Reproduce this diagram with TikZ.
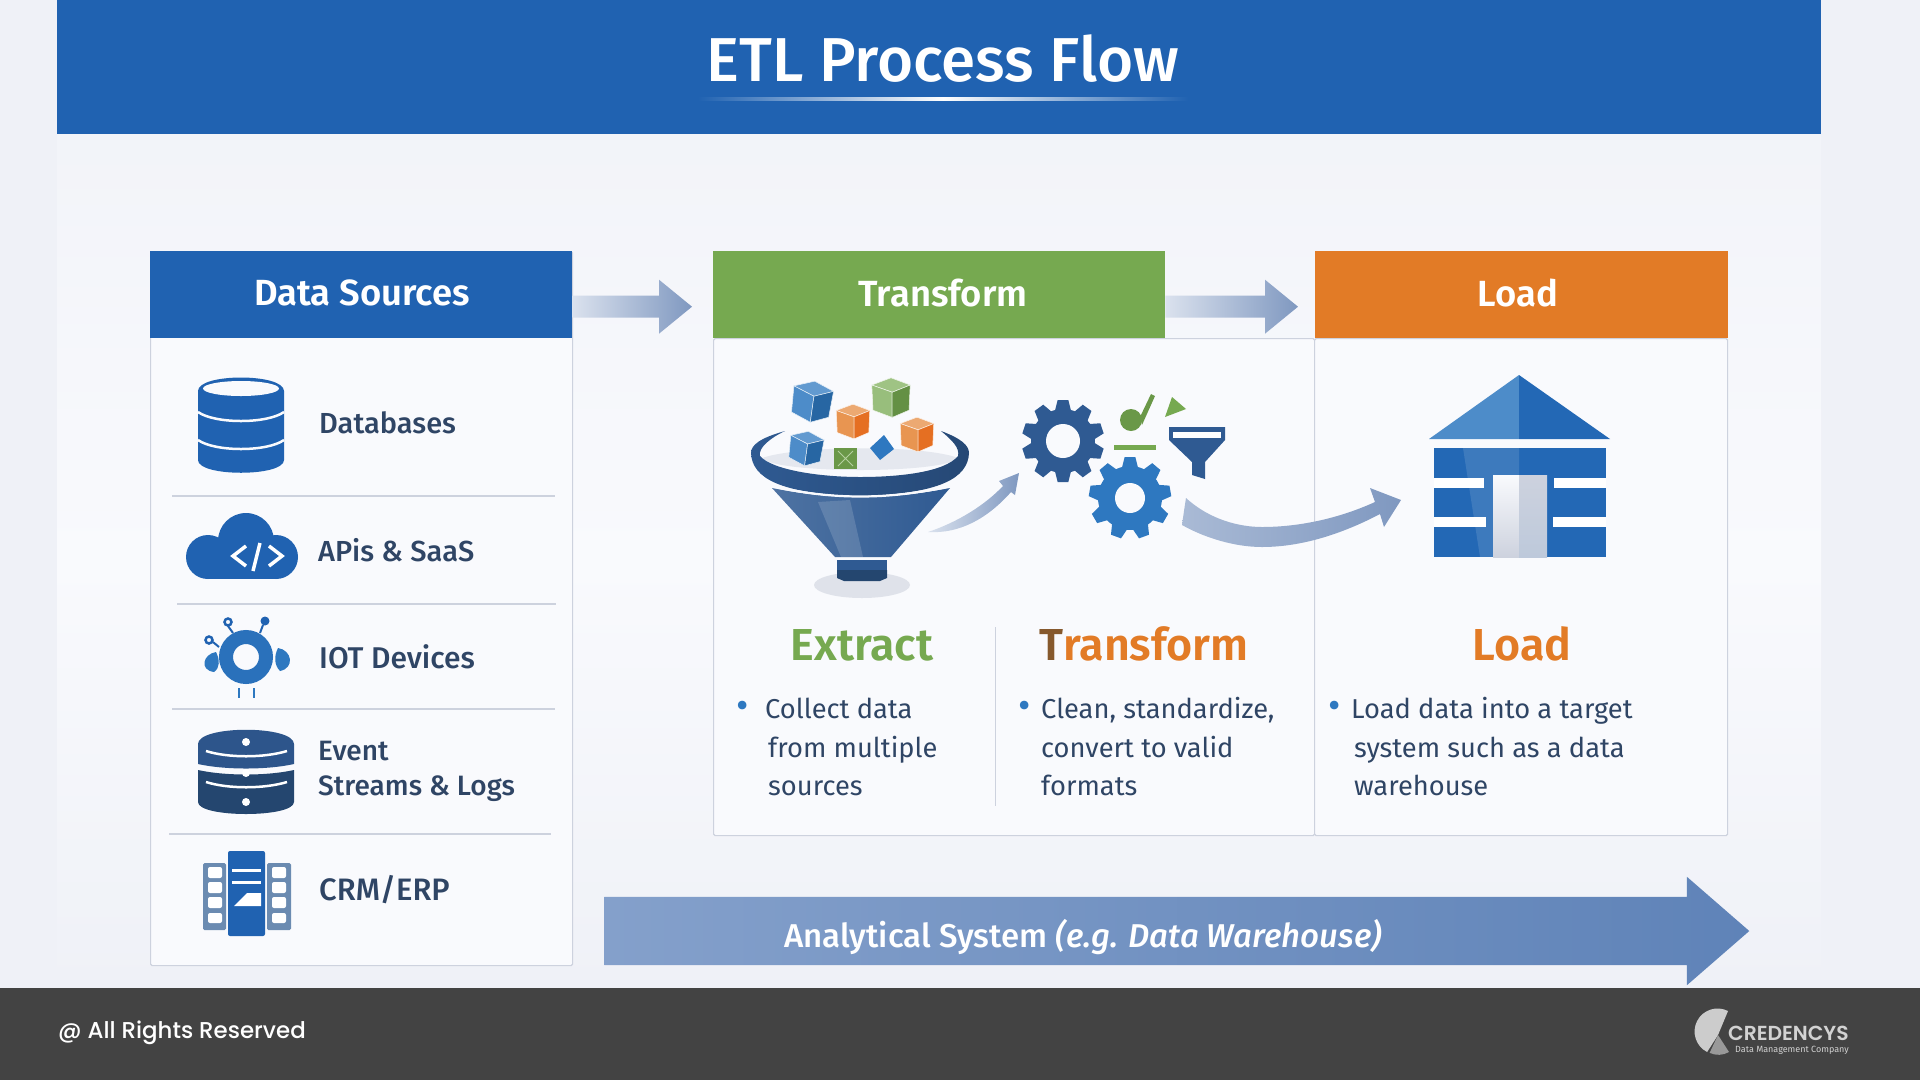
\documentclass[tikz,border=0pt]{standalone}
\usepackage{fontspec}
\setmainfont{Fira Sans}
\newfontfamily\medfont{Fira Sans Medium}[ItalicFont={Fira Sans Medium Italic}]
\newfontfamily\semifont{Fira Sans SemiBold}
\newfontfamily\footfont{Poppins Medium}
\newfontfamily\logofont{Poppins SemiBold}
\usepackage{xcolor}
\definecolor{etlBlue}{HTML}{2062B1}
\definecolor{etlNavy}{HTML}{2F5A92}
\definecolor{etlDeep}{HTML}{24466F}
\definecolor{etlSky}{HTML}{2E78C0}
\definecolor{etlGreen}{HTML}{76A950}
\definecolor{etlOrange}{HTML}{E27B26}
\definecolor{etlInk}{HTML}{2F4565}
\definecolor{etlLine}{HTML}{CDD2DE}
\definecolor{etlPage}{HTML}{F9FAFD}
\definecolor{etlSide}{HTML}{EFF1F7}
\definecolor{etlFoot}{HTML}{434343}
\definecolor{etlFlow}{HTML}{7F98C0}
\definecolor{etlBandL}{HTML}{84A0CB}
\definecolor{etlBandR}{HTML}{5F83B8}
\usetikzlibrary{shapes.arrows,positioning,calc}
\tikzset{
    panel/.style={
        draw=etlLine,
        fill=etlPage,
        line width=1.2pt,
        rectangle,
        anchor=north west,
        rounded corners=1.5pt
    },
    headbox/.style={
        rectangle,
        anchor=north west,
        minimum height=87pt,
        inner sep=0pt
    },
    headtext/.style={
        inner sep=0pt,
        text=white,
        font=\semifont\fontsize{36.4}{40}\selectfont
    },
    itemtext/.style={
        anchor=west,
        align=left,
        inner sep=0pt,
        text=etlInk,
        font=\medfont\fontsize{29}{35}\selectfont
    },
    stagetext/.style={
        anchor=base,
        inner sep=0pt,
        font=\semifont\fontsize{44.8}{48}\selectfont
    },
    bodytext/.style={
        anchor=west,
        align=left,
        inner sep=0pt,
        text=etlInk,
        font=\fontsize{27.3}{38.5}\selectfont
    },
    bulletdot/.style={
        anchor=center,
        inner sep=0pt,
        text=etlSky,
        font=\fontsize{38}{40}\selectfont
    },
    sepline/.style={
        draw=etlLine,
        line width=1.2pt
    },
    flowshade/.style={
        left color=etlFlow!25!etlPage,
        right color=etlFlow
    }
}
% block arrow between two header boxes: from, to, gap before the second box
\newcommand{\flowarrow}[3]{%
    \shade[flowshade] ($(#1.east)+(0,1)$) -- ($(#2.west)+(-33-#3,1)$) -- ($(#2.west)+(-33-#3,-15)$)
        -- ($(#2.west)+(-#3,12)$) -- ($(#2.west)+(-33-#3,39)$) -- ($(#2.west)+(-33-#3,23)$)
        -- ($(#1.east)+(0,23)$) -- cycle;
}
% gear: x, y, radius, hole radius, colour, teeth
\newcommand{\gearicon}[6]{%
    \fill[#5] (#1,#2) circle[radius=#3*0.78];
    \foreach \t in {1,...,#6} {
        \fill[#5, rotate around={360/#6*\t:(#1,#2)}] (#1-#3*.2,#2-#3*.72) -- (#1-#3*.13,#2-#3)
            -- (#1+#3*.13,#2-#3) -- (#1+#3*.2,#2-#3*.72) -- cycle;
    }
    \fill[etlPage] (#1,#2) circle[radius=#4];
}
% cube: x, y, size, rotation, top, left, right
\newcommand{\cubeicon}[7]{%
    \begin{scope}[shift={(#1,#2)}, rotate=#4, draw=white!85!#5, line width=.5pt, line join=round]
        \filldraw[fill=#5] (0,-#3*.8) -- (#3*.8,-#3*.5) -- (#3*.05,-#3*.2) -- (-#3*.8,-#3*.5) -- cycle;
        \filldraw[fill=#6] (-#3*.8,-#3*.5) -- (#3*.05,-#3*.2) -- (#3*.05,#3*.85) -- (-#3*.75,#3*.55) -- cycle;
        \filldraw[fill=#7] (#3*.8,-#3*.5) -- (#3*.05,-#3*.2) -- (#3*.05,#3*.85) -- (#3*.75,#3*.55) -- cycle;
    \end{scope}
}
\begin{document}
\begin{tikzpicture}[x=1pt,y=-1pt]
    \useasboundingbox (0,0) rectangle (1920,1080);
    % Page, title band and footer
    \fill[etlSide] (0,0) rectangle (1920,1080);
    \shade[top color=etlSide!70!etlPage, bottom color=etlSide, middle color=etlPage] (57,134) rectangle (1821,988);
    \fill[etlBlue] (57,0) rectangle (1821,134);
    \node[inner sep=0pt, text=white, font=\medfont\fontsize{62}{66}\selectfont] (title) at (943,59) {ETL Process Flow};
    \shade[left color=etlBlue, right color=etlBlue, middle color=white] (698,97.5) rectangle (1188,100.5);
    \fill[etlFoot] (0,988) rectangle (1920,1080);
    \node[anchor=west, inner sep=0pt, text=white, font=\footfont\fontsize{22.9}{25}\selectfont] (rights) at (58,1033) {@ All Rights Reserved};

    % Panels
    \node[panel, minimum width=422pt, minimum height=714pt] (srcpanel) at (150,251) {};
    \node[panel, minimum width=601pt, minimum height=497pt] (xfmpanel) at (713,338) {};
    \node[panel, minimum width=413pt, minimum height=497pt] (loadpanel) at (1314,338) {};
    \node[headbox, fill=etlBlue, minimum width=422pt] (srchead) at (150,251) {};
    \node[headbox, fill=etlGreen, minimum width=452pt] (xfmhead) at (713,251) {};
    \node[headbox, fill=etlOrange, minimum width=413pt] (loadhead) at (1315,251) {};
    \node[headtext] (srctitle) at (362,293) {Data Sources};
    \node[headtext] (xfmtitle) at (943,293) {Transform};
    \node[headtext] (loadtitle) at (1518,293) {Load};
    \flowarrow{srchead}{xfmhead}{21}
    \flowarrow{xfmhead}{loadhead}{17}

    % Source rows
    \draw[sepline] (172,496) -- (555,496);
    \draw[sepline] (177,604) -- (556,604);
    \draw[sepline] (172,709) -- (555,709);
    \draw[sepline] (169,834) -- (551,834);
    \node[itemtext] (databases) at (319,423) {Databases};
    \node[itemtext] (apis) at (318,550) {APis \& SaaS};
    \node[itemtext, font=\medfont\fontsize{30}{35}\selectfont] (iot) at (319,657) {IOT Devices};
    \node[itemtext, font=\medfont\fontsize{28}{35}\selectfont] (events) at (318,771.5) {Event\\Streams \& Logs};
    \node[itemtext, font=\medfont\fontsize{31}{35}\selectfont] (crm) at (319,890) {CRM/ERP};

    % Database icon
    \fill[etlBlue] (198,391) .. controls (198,373) and (284,373) .. (284,391) -- (284,460)
        .. controls (284,477) and (198,477) .. (198,460) -- cycle;
    \fill[etlPage] (241,388.5) ellipse[x radius=38, y radius=7.5];
    \foreach \yy in {412,440} {
        \draw[etlPage, line width=2.5pt] (198,\yy) .. controls (215,\yy+12) and (267,\yy+12) .. (284,\yy);
    }

    % Cloud icon
    \fill[etlBlue] (208,557) circle[radius=22];
    \fill[etlBlue] (246,541) circle[radius=28];
    \fill[etlBlue] (276,557) circle[radius=22];
    \fill[etlBlue] (208,550) rectangle (276,579);
    \draw[white, line width=3.5pt] (246,546) -- (233,556) -- (246,566);
    \draw[white, line width=3.5pt] (253,571) -- (260,543);
    \draw[white, line width=3.5pt] (269,546) -- (282,556) -- (269,566);

    % IOT icon
    \draw[etlSky!70!etlBlue, line width=14pt] (246,657) circle[radius=20];
    \fill[etlSky] (216,652) .. controls (203,654) and (199,670) .. (214,672) .. controls (220,668) and (220,660) .. (216,652) -- cycle;
    \fill[etlSky] (278,648) .. controls (292,650) and (295,668) .. (280,671) .. controls (274,665) and (274,656) .. (278,648) -- cycle;
    \draw[etlBlue, line width=2.5pt] (228,622) circle[radius=3.5];
    \draw[etlBlue, line width=2.5pt] (209,640) circle[radius=3.5];
    \fill[etlBlue] (265,621) circle[radius=4.5];
    \draw[etlBlue, line width=2pt] (228,626) -- (233,633) (213,642) -- (219,647) (263,625) -- (260,633);
    \draw[etlSky, line width=2pt] (239,688) -- (239,698) (254,688) -- (254,698);

    % Event stream icon
    \fill[etlNavy!95!black] (198,744) .. controls (198,725) and (294,725) .. (294,744) -- (294,764)
        .. controls (267,770) and (225,770) .. (198,764) -- cycle;
    \fill[etlDeep] (198,770) .. controls (225,776) and (267,776) .. (294,770) -- (294,802)
        .. controls (294,818) and (198,818) .. (198,802) -- cycle;
    \draw[white, line width=2.5pt] (206,751) .. controls (228,758) and (264,758) .. (287,751);
    \draw[white, line width=2.5pt] (206,782) .. controls (228,789) and (264,789) .. (287,782);
    \foreach \yy in {742,773,802} {
        \fill[white] (246,\yy) circle[radius=4];
    }

    % CRM icon
    \fill[etlBlue!60!gray!80!white, rounded corners=1.5pt] (203,863) rectangle (226,930);
    \fill[etlBlue!60!gray!80!white, rounded corners=1.5pt] (267,863) rectangle (291,930);
    \fill[etlBlue, rounded corners=2pt] (228,851) rectangle (265,936);
    \foreach \yy/\yb in {867/878,882/893,897/908,913/923} {
        \fill[white, rounded corners=2pt] (208,\yy) rectangle (222,\yb);
        \fill[white, rounded corners=2pt] (272,\yy) rectangle (286,\yb);
    }
    \fill[white] (232,869) rectangle (261,871.5);
    \fill[white] (232,881) rectangle (261,883.5);
    \fill[white] (234,906) -- (247,893) -- (261,893) -- (261,906) -- cycle;

    % Funnel
    \fill[etlLine!60!etlPage] (862,585) ellipse[x radius=48, y radius=13];
    \shade[left color=etlNavy!85!white, right color=etlNavy] (772,488) .. controls (830,500) and (890,500) .. (950,488)
        -- (891,557) -- (835,557) -- cycle;
    \fill[white, opacity=.15] (818,502) -- (850,500) -- (863,557) -- (841,557) -- cycle;
    \fill[etlNavy] (837,560) rectangle (887,572);
    \fill[etlDeep] (837,570) -- (887,570) -- (887,578) -- (880,581) -- (844,581) -- (837,578) -- cycle;
    \fill[etlLine!45!etlPage] (762,458) .. controls (800,445) and (925,445) .. (958,458)
        .. controls (945,474) and (775,474) .. (762,458) -- cycle;
    \shade[left color=etlNavy, right color=etlNavy!80!black] (785,431) .. controls (760,438) and (751,445) .. (751,453)
        .. controls (752,478) and (780,494) .. (860,496) .. controls (940,494) and (968,478) .. (969,453)
        .. controls (969,445) and (960,438) .. (941,431) .. controls (952,440) and (960,448) .. (958,456)
        .. controls (945,472) and (900,477) .. (860,477) .. controls (820,477) and (772,470) .. (760,456)
        .. controls (758,448) and (770,438) .. (785,431) -- cycle;
    \draw[etlPage, line width=2.2pt] (772,486) .. controls (830,500) and (890,500) .. (950,486);

    % Data blocks above the funnel
    \cubeicon{812}{401}{25}{-8}{etlSky!75!white}{etlSky!85!white}{etlSky!85!black}
    \cubeicon{891}{397}{24}{0}{etlGreen!70!white}{etlGreen!75!white}{etlGreen!85!black}
    \cubeicon{853}{421}{21}{0}{etlOrange!65!white}{etlOrange!80!white}{etlOrange!90!red}
    \cubeicon{917}{434}{21}{0}{etlOrange!65!white}{etlOrange!80!white}{etlOrange!90!red}
    \cubeicon{806}{448}{21}{-8}{etlSky!75!white}{etlSky!85!white}{etlSky!85!black}
    \fill[etlGreen!90!black] (834,448) rectangle (857,469);
    \draw[etlGreen!55!white, line width=1pt] (838,451) -- (853,466) (853,451) -- (838,466);
    \fill[etlSky] (884,435) -- (894,449) -- (880,460) -- (870,448) -- cycle;

    % Gears and small tools
    \gearicon{1063}{441}{41}{17}{etlNavy}{10}
    \gearicon{1130}{498}{41}{15}{etlSky}{9}
    \fill[etlGreen!90!black] (1131,420) circle[radius=11];
    \fill[etlGreen!90!black] (1140,417) -- (1151,394) -- (1155,396) -- (1142,425) -- cycle;
    \fill[etlGreen] (1172,397) -- (1186,409) -- (1165,417) -- cycle;
    \fill[etlGreen] (1114,445) rectangle (1156,450);
    \fill[etlNavy] (1169,427) -- (1225,427) -- (1225,440) -- (1205,462) -- (1205,479) -- (1192,475) -- (1192,462) -- (1169,440) -- cycle;
    \fill[white] (1173,432) rectangle (1221,438);

    % Warehouse icon
    \fill[etlBlue!75!etlSky] (1434,448) rectangle (1606,557);
    \fill[white, opacity=.12] (1463,448) -- (1519,448) -- (1519,475) -- (1493,475) -- (1493,557) -- (1480,557) -- cycle;
    \foreach \yy/\xa/\xb in {478/1484/1554,517/1486/1553} {
        \fill[white] (1434,\yy) rectangle (\xa,\yy+10);
        \fill[white] (\xb,\yy) rectangle (1606,\yy+10);
    }
    \shade[top color=etlPage, bottom color=etlLine] (1493,475) rectangle (1519,557);
    \shade[top color=etlLine, bottom color=etlLine!90!etlSky] (1519,475) rectangle (1547,557);
    \fill[etlSky!85!white] (1429,439) -- (1519,375) -- (1519,439) -- cycle;
    \fill[etlBlue!75!etlSky] (1519,375) -- (1610,439) -- (1519,439) -- cycle;

    % Curved arrows between the icons
    \coordinate (funnelout) at (928,532);
    \coordinate (gearin) at (1019,473);
    \coordinate (gearout) at (1184,511);
    \coordinate (housein) at (1401,500);
    \shade[flowshade] (funnelout) .. controls (958,522) and (985,505) .. (1003,486) -- (999,481) -- (gearin)
        -- (1015,495) -- (1011,492) .. controls (988,518) and (960,534) .. (funnelout) -- cycle;
    \shade[left color=etlFlow!65!etlPage, right color=etlFlow] (gearout) -- (1186,498) .. controls (1210,520) and (1240,527) .. (1262,527)
        .. controls (1300,527) and (1340,518) .. (1375,502) -- (1370,488) -- (housein) -- (1384,527) -- (1380,514)
        .. controls (1340,535) and (1300,547) .. (1262,547) .. controls (1235,547) and (1205,538) .. (1182,525) -- cycle;

    % Stage texts
    \node[stagetext, text=etlGreen] (extract) at (862,660) {Extract};
    \node[stagetext, text=etlOrange] (xfmword) at (1144,660) {\textcolor{brown!70!black}{T}ransform};
    \node[stagetext, text=etlOrange] (loadword) at (1522,660) {Load};
    \draw[sepline] (995.5,627) -- (995.5,806);

    % Bullet lists
    \node[bulletdot] (dota) at (743,710) {•};
    \node[bodytext] (extracttext) at (765,747) {Collect data\\\hspace*{3pt}from multiple\\\hspace*{3pt}sources};
    \node[bulletdot] (dotb) at (1025,710) {•};
    \node[bodytext] (xfmtext) at (1041,747) {Clean, standardize,\\convert to valid\\formats};
    \node[bulletdot] (dotc) at (1335,710) {•};
    \node[bodytext] (loadtext) at (1351,747) {Load data into a target\\\hspace*{3pt}system such as a data\\\hspace*{3pt}warehouse};

    % Analytical system arrow
    \node[single arrow, single arrow head extend=20pt, single arrow tip angle=82, inner xsep=0pt, inner ysep=34pt,
        minimum height=1145pt, anchor=west,
        left color=etlBandL, right color=etlBandR] (analytic) at (604,931) {};
    \node[inner sep=0pt, text=white, font=\medfont\fontsize{33}{36}\selectfont] (analytictext) at (1083,937) {Analytical System \textit{(e.g. Data Warehouse)}};

    % Logo
    \fill[gray!40!white] (1728,1011) arc[start angle=-63, end angle=-243, radius=23] -- (1718,1035) -- cycle;
    \fill[gray!80!white] (1718,1035) -- (1729,1052) arc[start angle=-300, end angle=-245, radius=21] -- cycle;
    \node[anchor=west, inner sep=0pt, text=gray!35!white, font=\logofont\fontsize{20.3}{22}\selectfont] (credencys) at (1728,1033) {CREDENCYS};
    \node[anchor=west, inner sep=0pt, text=gray!35!white, font=\fontsize{9}{11}\selectfont] (company) at (1735,1050) {Data Management Company};
\end{tikzpicture}
\end{document}
